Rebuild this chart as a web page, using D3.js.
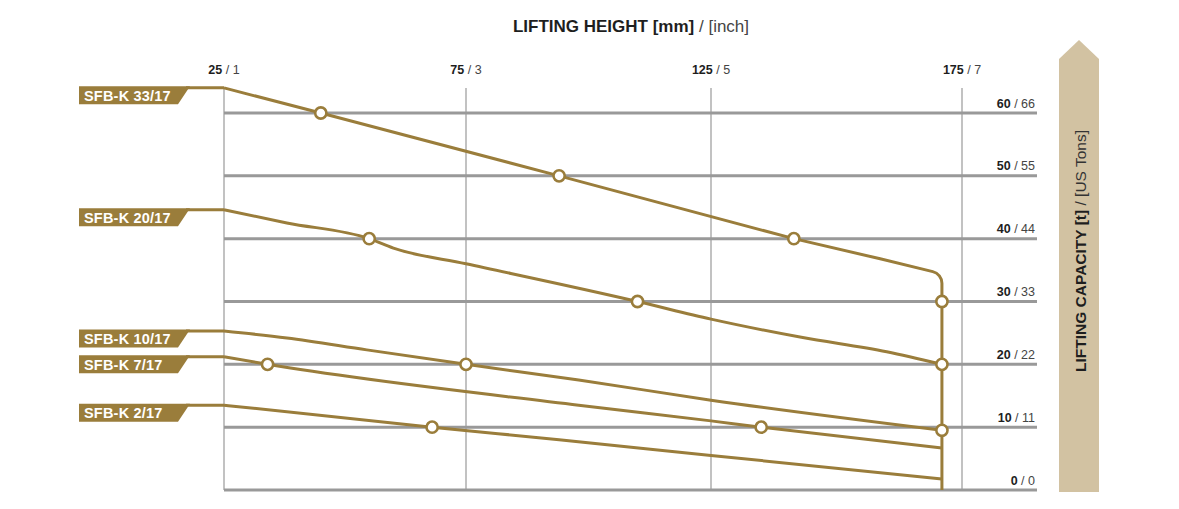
<!DOCTYPE html>
<html>
<head>
<meta charset="utf-8">
<script src="https://cdn.jsdelivr.net/npm/d3@7"></script>
<style>
    body { margin: 0; background: #fff; }
    svg { display: block; font-family: "Liberation Sans", Arial, sans-serif; }
</style>
</head>
<body>
<script>
// axis ticks
var xTicksMm = [25, 75, 125, 175];
var xTicksInch = [1, 3, 5, 7];
var yTicksT = [0, 10, 20, 30, 40, 50, 60];
var yTicksUs = [0, 11, 22, 33, 44, 55, 66];

// models
var models = ["SFB-K 33/17", "SFB-K 20/17", "SFB-K 10/17", "SFB-K 7/17", "SFB-K 2/17"];

// lifting height [mm] / capacity [t] per model
var mm33 = [25, 45, 94, 141.5, 158.7, 171, 171];
var t33 = [64, 60, 50, 40, 36.8, 34.4, 0];
var dots33 = [[45, 60], [94, 50], [141.5, 40], [171, 30]];

var mm20 = [25, 38, 55, 60, 75, 110, 125, 143, 160, 171];
var t20 = [44.6, 42.5, 40, 38.5, 36, 30, 27.2, 24.3, 22, 20];
var dots20 = [[55, 40], [110, 30], [171, 20]];

var mm10 = [25, 38, 54.5, 75, 98, 125, 171];
var t10 = [25.3, 24.2, 22.3, 20, 17.5, 14.3, 9.5];
var dots10 = [[75, 20], [171, 9.5]];

var mm7 = [25, 34, 98, 125, 135, 171];
var t7 = [21.2, 20, 13.5, 11, 10, 6.7];
var dots7 = [[34, 20], [135, 10]];

var mm2 = [25, 68, 94, 125, 171];
var t2 = [13.5, 10, 8, 5.5, 1.75];
var dots2 = [[68, 10]];

(function () {
    var width = 1179;
    var height = 509;
    var gold = "#9a7d3b";
    var grid = "#999999";
    var gridTop = 88;
    var gridRight = 1037;

    var svg = d3.select("body").append("svg")
        .attr("width", width)
        .attr("height", height);

    // the printed ticks are not quite evenly spaced
    var x = d3.scaleLinear().domain([25, 75, 125, 175]).range([224, 466, 711, 962]);
    var y = d3.scaleLinear().domain([0, 60]).range([490, 113]);

    // title
    var title = svg.append("text")
        .attr("x", 631)
        .attr("y", 32)
        .attr("text-anchor", "middle")
        .style("font-size", "17px");
    title.append("tspan").attr("font-weight", "bold").attr("fill", "#1e1e1e").text("LIFTING HEIGHT [mm]");
    title.append("tspan").attr("fill", "#444").text(" / [inch]");

    // vertical grid + top labels
    svg.append("g").selectAll("line")
        .data(xTicksMm)
        .enter()
        .append("line")
        .attr("x1", (d) => x(d)).attr("x2", (d) => x(d))
        .attr("y1", gridTop).attr("y2", y(0))
        .attr("stroke", grid)
        .attr("stroke-width", 1.2);

    var xl = svg.append("g").selectAll("text")
        .data(xTicksMm)
        .enter()
        .append("text")
        .attr("x", (d) => x(d))
        .attr("y", 74)
        .attr("text-anchor", "middle")
        .style("font-size", "12.5px");
    xl.append("tspan").attr("font-weight", "bold").attr("fill", "#1e1e1e").text((d) => d);
    xl.append("tspan").attr("fill", "#444").text((d, i) => " / " + xTicksInch[i]);

    // horizontal grid + right labels
    svg.append("g").selectAll("line")
        .data(yTicksT)
        .enter()
        .append("line")
        .attr("x1", x(25)).attr("x2", gridRight)
        .attr("y1", (d) => y(d)).attr("y2", (d) => y(d))
        .attr("stroke", grid)
        .attr("stroke-width", 3);

    var yl = svg.append("g").selectAll("text")
        .data(yTicksT)
        .enter()
        .append("text")
        .attr("x", 1035)
        .attr("y", (d) => y(d) - 5.5)
        .attr("text-anchor", "end")
        .style("font-size", "12.5px");
    yl.append("tspan").attr("font-weight", "bold").attr("fill", "#1e1e1e").text((d) => d);
    yl.append("tspan").attr("fill", "#444").text((d, i) => " / " + yTicksUs[i]);

    // series
    var series = [
        { name: models[0], mm: mm33, t: t33, dots: dots33, corner: 5 },
        { name: models[1], mm: mm20, t: t20, dots: dots20 },
        { name: models[2], mm: mm10, t: t10, dots: dots10 },
        { name: models[3], mm: mm7, t: t7, dots: dots7 },
        { name: models[4], mm: mm2, t: t2, dots: dots2 }
    ];

    var line = d3.line()
        .x((d) => x(d[0]))
        .y((d) => y(d[1]))
        .curve(d3.curveMonotoneX);

    function pathFor(s) {
        var pts = s.mm.map((m, i) => [m, s.t[i]]);
        if (s.corner === undefined) {
            return line(pts);
        }
        // straight segments with one rounded corner
        var p = d3.path();
        p.moveTo(x(pts[0][0]), y(pts[0][1]));
        for (var i = 1; i < s.corner; i++) {
            p.lineTo(x(pts[i][0]), y(pts[i][1]));
        }
        var c = pts[s.corner], n = pts[s.corner + 1];
        p.arcTo(x(c[0]), y(c[1]), x(n[0]), y(n[1]), 12);
        for (var j = s.corner + 1; j < pts.length; j++) {
            p.lineTo(x(pts[j][0]), y(pts[j][1]));
        }
        return p.toString();
    }

    // draw bottom model first so the big one sits on top
    var ordered = series.slice().reverse();

    svg.append("g").selectAll("path")
        .data(ordered)
        .enter()
        .append("path")
        .attr("d", pathFor)
        .attr("fill", "none")
        .attr("stroke", gold)
        .attr("stroke-width", 3);

    // name tags with leader to the 25 mm line
    var tags = svg.append("g").selectAll("g")
        .data(series)
        .enter()
        .append("g")
        .attr("transform", (d) => "translate(0," + y(d.t[0]) + ")");

    tags.append("line")
        .attr("x1", 186).attr("x2", x(25))
        .attr("y1", 0).attr("y2", 0)
        .attr("stroke", gold)
        .attr("stroke-width", 3);

    tags.append("polygon")
        .attr("points", "79,-1.5 190,-1.5 178,16.5 79,16.5")
        .attr("fill", gold);

    tags.append("text")
        .attr("x", 84)
        .attr("y", 13)
        .attr("fill", "#fff")
        .attr("font-weight", "bold")
        .style("font-size", "14.5px")
        .style("letter-spacing", "0.2px")
        .text((d) => d.name);

    // markers
    var allDots = [];
    series.forEach((s) => { s.dots.forEach((d) => allDots.push(d)); });

    svg.append("g").selectAll("circle")
        .data(allDots)
        .enter()
        .append("circle")
        .attr("cx", (d) => x(d[0]))
        .attr("cy", (d) => y(d[1]))
        .attr("r", 5.6)
        .attr("fill", "#fff")
        .attr("stroke", gold)
        .attr("stroke-width", 2.6);

    // capacity arrow
    svg.append("polygon")
        .attr("points", "1079,40 1099,59 1099,492 1059,492 1059,59")
        .attr("fill", "#d2c2a2");

    var yt = svg.append("text")
        .attr("transform", "translate(1086,251) rotate(-90)")
        .attr("text-anchor", "middle")
        .style("font-size", "15.5px");
    yt.append("tspan").attr("font-weight", "bold").attr("fill", "#1e1e1e").text("LIFTING CAPACITY [t]");
    yt.append("tspan").attr("fill", "#333").text(" / [US Tons]");
})();
</script>
</body>
</html>
